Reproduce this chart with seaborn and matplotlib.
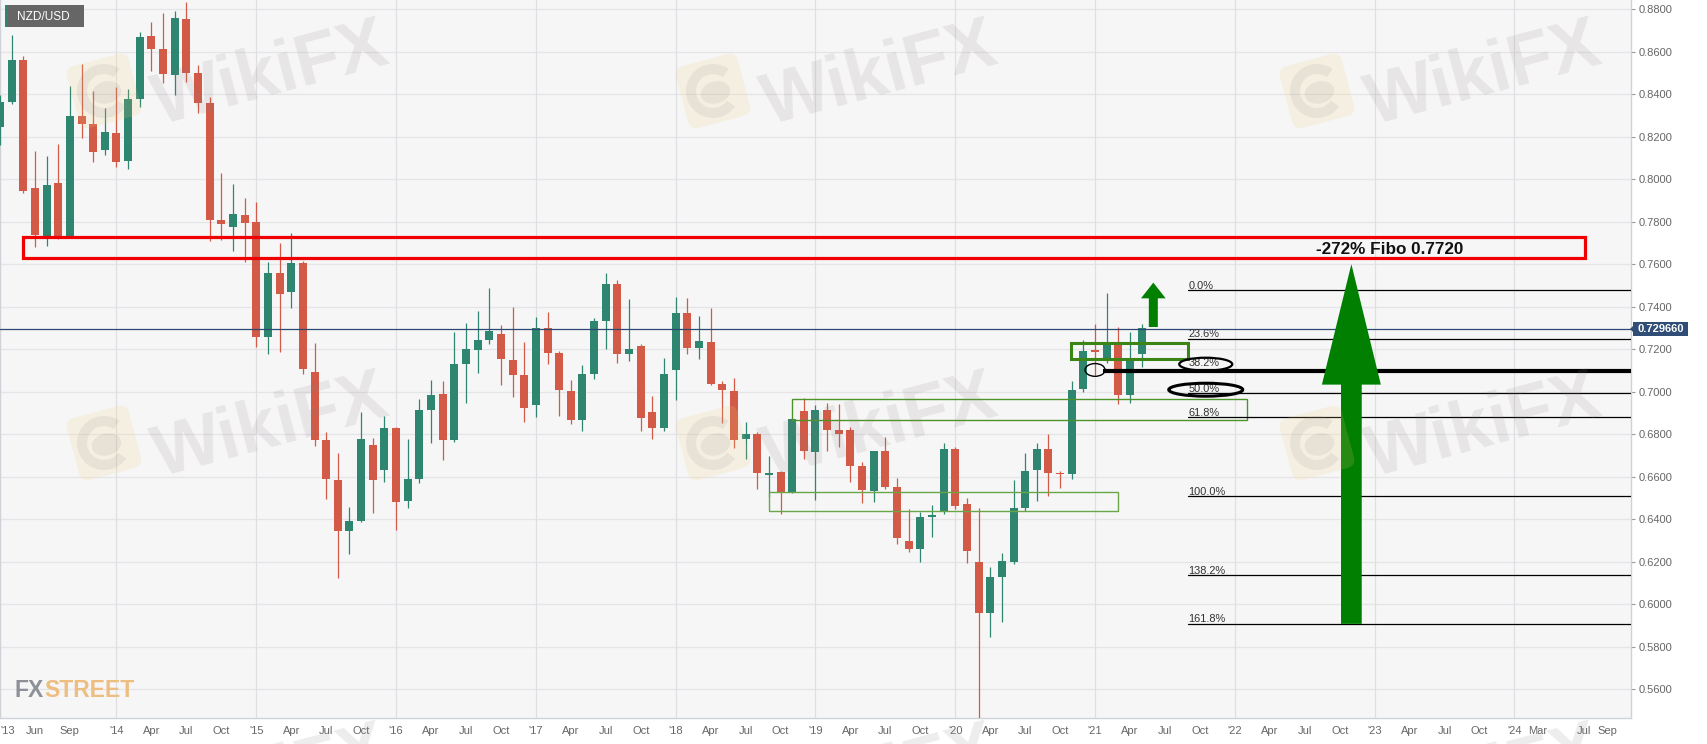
import numpy as np
import pandas as pd
import matplotlib
matplotlib.use('Agg')
import matplotlib.pyplot as plt
import seaborn as sns
from matplotlib.patches import Rectangle, Ellipse, Polygon, FancyBboxPatch, Wedge
from matplotlib.transforms import Affine2D

# monthly candles, Mar 2013 .. May 2021 (month 0 = Jan 2014)
months = list(range(-10, 89))
opens = [.8247, .8365, .8561, .7957, .7732, .7983, .7732, .8297, .8259, .8136,
         .8217, .8087, .8379, .8674, .8614, .8492, .8755, .8498, .8358, .7806, .7775, .7833,
         .7797, .7259, .7560, .7469, .7607, .7092, .6772, .6584, .6346, .6391, .6747, .6630,
         .6829, .6487, .6589, .6912, .6987, .6772, .7132, .7198, .7245, .7270, .7150, .7078,
         .6939, .7299, .7180, .7001, .6868, .7083, .7332, .7508, .7177, .7213, .6903, .6830,
         .7102, .7372, .7205, .7232, .7034, .7005, .6777, .6801, .6606, .6620, .6525, .6909,
         .6718, .6912, .6818, .6821, .6650, .6532, .6721, .6550, .6299, .6261, .6412, .6434,
         .6730, .6470, .6198, .5960, .6126, .6197, .6454, .6630, .6732, .6619, .6612, .7011,
         .7196, .7155, .7224, .6984, .7177]
closes = [.8365, .8561, .7944, .7737, .7972, .7726, .8297, .8259, .8128, .8220,
          .8082, .8379, .8670, .8611, .8495, .8758, .8499, .8360, .7808, .7789, .7836, .7795,
          .7259, .7560, .7458, .7607, .7105, .6772, .6589, .6346, .6391, .6777, .6583, .6827,
          .6482, .6589, .6912, .6984, .6772, .7130, .7199, .7245, .7285, .7152, .7078, .6925,
          .7299, .7180, .7006, .6867, .7081, .7331, .7508, .7176, .7199, .6874, .6830, .7085,
          .7372, .7205, .7238, .7036, .7006, .6771, .6801, .6617, .6617, .6525, .6873, .6721,
          .6912, .6818, .6801, .6652, .6536, .6721, .6550, .6313, .6261, .6412, .6418, .6730,
          .6463, .6250, .5960, .6126, .6203, .6451, .6627, .6732, .6619, .6612, .7008, .7193,
          .7185, .7221, .6984, .7155, .7298]
highs = [.8396, .8678, .8579, .8134, .8109, .8164, .8438, .8540, .8415, .8333,
         .8432, .8423, .8694, .8741, .8780, .8793, .8832, .8537, .8388, .8030, .7976, .7910,
         .7891, .7612, .7698, .7745, .7616, .7230, .6808, .6710, .6456, .6903, .6783, .6887,
         .6835, .6776, .6964, .7055, .7052, .7279, .7325, .7379, .7486, .7312, .7400, .7232,
         .7350, .7373, .7190, .7053, .7124, .7345, .7557, .7524, .7434, .7223, .6981, .7157,
         .7444, .7439, .7354, .7395, .7052, .7063, .6859, .6812, .6699, .6628, .6874, .6969,
         .6939, .6945, .6940, .6835, .6667, .6722, .6788, .6592, .6449, .6434, .6465, .6757,
         .6741, .6501, .6451, .6176, .6239, .6583, .6713, .6760, .6799, .6627, .7052, .7243,
         .7317, .7463, .7306, .7282, .7318]
lows = [.8161, .8352, .7936, .7682, .7687, .7720, .7726, .8192, .8082, .8115,
        .8059, .8049, .8341, .8510, .8451, .8396, .8459, .8310, .7707, .7714, .7660, .7608,
        .7212, .7176, .7188, .7392, .7083, .6746, .6496, .6121, .6234, .6385, .6427, .6576,
        .6349, .6451, .6568, .6757, .6678, .6765, .6948, .7086, .7223, .7033, .6973, .6859,
        .6882, .7128, .6887, .6846, .6816, .7058, .7199, .7133, .7146, .6816, .6779, .6816,
        .6961, .7176, .7152, .7030, .6851, .6733, .6685, .6540, .6506, .6423, .6521, .6681,
        .6489, .6719, .6741, .6576, .6478, .6482, .6540, .6281, .6247, .6200, .6314, .6423,
        .6449, .6192, .5466, .5844, .5918, .6187, .6440, .6487, .6511, .6547, .6587, .7000,
        .7078, .7133, .6940, .6945, .7114]

tick_months = [-10, -7, -4, 0, 3, 6, 9, 12, 15, 18, 21, 24, 27, 30, 33, 36, 39, 42, 45,
               48, 51, 54, 57, 60, 63, 66, 69, 72, 75, 78, 81, 84, 87, 90, 93, 96, 99, 102,
               105, 108, 111, 114, 117, 120, 122, 126, 128]
tick_labels = ["'13", 'Jun', 'Sep', "'14", 'Apr', 'Jul', 'Oct', "'15", 'Apr', 'Jul', 'Oct',
               "'16", 'Apr', 'Jul', 'Oct', "'17", 'Apr', 'Jul', 'Oct', "'18", 'Apr', 'Jul', 'Oct',
               "'19", 'Apr', 'Jul', 'Oct', "'20", 'Apr', 'Jul', 'Oct', "'21", 'Apr', 'Jul', 'Oct',
               "'22", 'Apr', 'Jul', 'Oct', "'23", 'Apr', 'Jul', 'Oct', "'24", 'Mar', 'Jul', 'Sep']
year_months = [0, 12, 24, 36, 48, 60, 72, 84, 96, 108, 120]
price_ticks = [.56, .58, .60, .62, .64, .66, .68, .70, .72, .74, .76, .78, .80, .82, .84, .86, .88]

last_price = 0.72966
fib_names = ['0.0%', '23.6%', '38.2%', '50.0%', '61.8%', '100.0%', '138.2%', '161.8%']
fib_levels = [.7477, .7247, .7098, .6992, .6879, .6507, .6136, .5906]

GREEN = '#2e8570'
RED = '#d25a47'
GRAY = '#666666'
PLOT_BG = '#f6f6f7'
GRID = '#e5e5e8'

sns.set_theme(style='white')
plt.rcParams['font.family'] = ['Liberation Sans', 'DejaVu Sans']

fig = plt.figure(figsize=(17.07, 7.44), dpi=100, facecolor='white')
ax = fig.add_axes([0, 26 / 744, 1630.5 / 1707, 718 / 744], facecolor=PLOT_BG)

candles = pd.DataFrame({'month': months, 'open': opens, 'close': closes, 'high': highs, 'low': lows})
candles['side'] = np.where(candles['close'] >= candles['open'], 'up', 'down')
wicks = candles.melt(id_vars=['month', 'side'], value_vars=['high', 'low'], value_name='price')
bodies = candles.melt(id_vars=['month', 'side'], value_vars=['open', 'close'], value_name='price')
palette = {'up': GREEN, 'down': RED}

sns.lineplot(data=wicks, x='month', y='price', hue='side', units='month', estimator=None,
             palette=palette, linewidth=0.9, legend=False, sort=False, ax=ax, zorder=3,
             solid_capstyle='butt')
sns.lineplot(data=bodies, x='month', y='price', hue='side', units='month', estimator=None,
             palette=palette, linewidth=5.76, legend=False, sort=False, ax=ax, zorder=4,
             solid_capstyle='butt')

ax.set_xlim(-10, 129.96)
ax.set_ylim(0.5464, 0.8843)
ax.set_xlabel('')
ax.set_ylabel('')

ax.yaxis.tick_right()
ax.set_yticks(price_ticks)
ax.set_yticklabels([f'{p:.4f}' for p in price_ticks])
ax.set_xticks(tick_months)
ax.set_xticklabels(tick_labels)
ax.get_xticklabels()[0].set_ha('left')
ax.tick_params(axis='y', length=3, width=0.8, color='#9a9a9a', labelcolor=GRAY, labelsize=8, pad=2.5)
ax.tick_params(axis='x', length=2.5, width=0.8, color='#9a9a9a', labelcolor=GRAY, labelsize=8, pad=3.5)
for p in price_ticks:
    ax.axhline(p, color=GRID, lw=0.9, zorder=1)
for m in year_months:
    ax.axvline(m, color='#dfdfe2', lw=0.9, zorder=1)
for side in ['top']:
    ax.spines[side].set_visible(False)
for side in ['left', 'right', 'bottom']:
    ax.spines[side].set_color('#cfd3d7')
    ax.spines[side].set_linewidth(1)

ax.axhline(last_price, color='#2c4a70', lw=0.9, zorder=5)

# drawn zones
ax.add_patch(Rectangle((-8, .7630), 134.05, .0099, fill=False, ec='#f00000', lw=2.3, zorder=6))
ax.text(103, .7671, '-272% Fibo 0.7720', fontsize=12.3, fontweight='bold', color='#111111',
        va='center', ha='left', zorder=7)
green_zones = [(81.9, .7155, 10.1, .0075, 2.2, '#3b8416'),
               (58, .6865, 39, .0099, 1.0, '#4d9428'),
               (56, .6440, 30, .0089, 1.0, '#6aa548')]
for x0, y0, w, h, lw, col in green_zones:
    ax.add_patch(Rectangle((x0, y0), w, h, fill=False, ec=col, lw=lw, zorder=6))

# fibonacci lines, the 38.2% one is the thick drawn line
for name, level in zip(fib_names, fib_levels):
    if name == '38.2%':
        ax.plot([84.7, 129.96], [level, level], color='black', lw=3, solid_capstyle='butt', zorder=7)
    else:
        ax.plot([92, 129.96], [level, level], color='black', lw=0.9, zorder=7)
    ax.annotate(name, (92, level), xytext=(0, 3.2 if name == '38.2%' else 1.2), textcoords='offset points',
                fontsize=7.9, color='#333333', va='baseline', ha='left', zorder=8)

for cx, cy, w, h, lw in [(84, .7102, 1.72, .0060, 1.0), (93.5, .7129, 4.55, .0061, 1.6), (93.5, .7009, 6.35, .0061, 2.2)]:
    ax.add_patch(Ellipse((cx, cy), w, h, fill=False, ec='black', lw=lw, zorder=8))


def up_arrow(x, tip, neck, foot, head_half, shaft_half):
    pts = [(x, tip), (x + head_half, neck), (x + shaft_half, neck), (x + shaft_half, foot),
           (x - shaft_half, foot), (x - shaft_half, neck), (x - head_half, neck)]
    ax.add_patch(Polygon(pts, closed=True, fc='#007f00', ec='none', zorder=9))


up_arrow(106, .7600, .7033, .5907, 2.53, .89)
up_arrow(89, .7513, .7439, .7304, 1.06, .386)

# overlay in pixel coordinates: labels, logo marks and watermark
ov = fig.add_axes([0, 0, 1, 1], facecolor='none')
ov.set_xlim(0, 1707)
ov.set_ylim(744, 0)
ov.axis('off')
ov.set_zorder(10)

ov.add_patch(Rectangle((5, 5), 79, 22, fc='#666666', ec='none'))
ov.add_patch(Rectangle((5, 5), 3, 22, fc='#2e8570', ec='none'))
ov.text(17, 16.5, 'NZD/USD', color='white', fontsize=8.6, va='center', ha='left')

ov.add_patch(Rectangle((1633, 321.7), 55, 14.5, fc='#2f4d75', ec='none'))
ov.add_patch(Polygon([(1630, 329), (1634, 325), (1634, 333)], closed=True, fc='#2f4d75', ec='none'))
ov.text(1638, 329.2, f'{last_price:.6f}', color='white', fontsize=8, fontweight='bold', va='center', ha='left')

ov.text(15, 697, 'FX', color='#8d9096', fontsize=16.5, fontweight='bold', va='baseline', ha='left')
ov.text(44, 697, 'STREET', color='#eebd80', fontsize=16.5, fontweight='bold', va='baseline', ha='left')

for lx in [104, 713, 1317]:
    for ly in [91, 443, 795]:
        rot = Affine2D().rotate_deg_around(lx, ly, -15) + ov.transData
        ov.add_patch(FancyBboxPatch((lx - 32, ly - 32), 64, 64, boxstyle='round,pad=0,rounding_size=9',
                                    fc='#f4cf78', ec='none', alpha=0.16, transform=rot, zorder=1))
        ov.add_patch(Wedge((lx, ly), 27, 50, 320, width=10, fc='#8a8a8a', ec='none', alpha=0.13,
                           transform=rot, zorder=2))
        ov.add_patch(Ellipse((lx + 2, ly + 2), 30, 22, fc='#8a8a8a', ec='none', alpha=0.13,
                             transform=rot, zorder=2))
        ov.text(lx + 167, ly - 15, 'WikiFX', fontsize=52, fontweight='bold', color='#8a7d7d', alpha=0.14,
                rotation=15, rotation_mode='anchor', ha='center', va='center', zorder=2)

fig.savefig('out.png', dpi=100, facecolor='white')
